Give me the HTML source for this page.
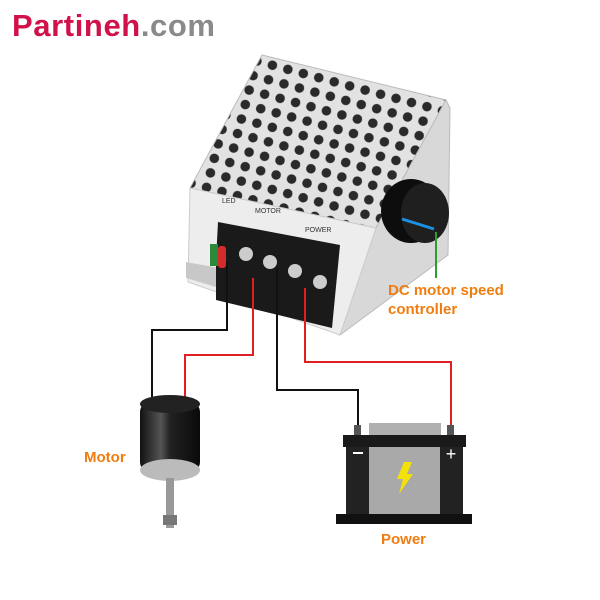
<!DOCTYPE html>
<html><head><style>
body{margin:0;width:600px;height:600px;background:#fff;overflow:hidden;font-family:"Liberation Sans",sans-serif}
.t{position:absolute;font-weight:bold;color:#f07d10;font-size:15px}
</style></head><body>
<div style="position:absolute;left:12px;top:8px;font-size:31px;font-weight:bold;letter-spacing:0.6px"><span style="color:#d1124a">Partineh</span><span style="color:#8a8a8a">.com</span></div>
<svg width="600" height="600" style="position:absolute;left:0;top:0">
<defs>
<pattern id="h" width="16" height="15" patternUnits="userSpaceOnUse" patternTransform="rotate(15)">
<rect width="16" height="15" fill="#e2e2e2"/><circle cx="8" cy="7.5" r="4.8" fill="#2a2a2a"/></pattern>
<linearGradient id="m" x1="0" x2="1"><stop offset="0" stop-color="#111"/><stop offset=".35" stop-color="#555"/><stop offset=".5" stop-color="#222"/><stop offset="1" stop-color="#0a0a0a"/></linearGradient>
</defs>
<polygon points="262,55 446,100 376,228 190,188" fill="url(#h)" stroke="#bbb"/>
<polygon points="376,228 446,100 450,108 448,255 340,335" fill="#d8d8d8" stroke="#bbb"/>
<polygon points="190,188 376,228 340,335 188,282" fill="#ededed" stroke="#ccc"/>
<polygon points="186,262 230,270 226,290 186,278" fill="#c8c8c8"/>
<polygon points="218,222 340,245 332,328 216,300 216,260" fill="#1a1a1a"/>
<rect x="210" y="244" width="8" height="22" fill="#2a8a3a"/>
<rect x="218" y="246" width="8" height="22" rx="3" fill="#d42b2b"/>
<circle cx="246" cy="254" r="7" fill="#ccc"/><circle cx="270" cy="262" r="7" fill="#ccc"/>
<circle cx="295" cy="271" r="7" fill="#ccc"/><circle cx="320" cy="282" r="7" fill="#ccc"/>
<text x="222" y="203" font-size="7" fill="#333" font-family="Liberation Sans">LED</text>
<text x="255" y="213" font-size="7" fill="#333" font-family="Liberation Sans">MOTOR</text>
<text x="305" y="232" font-size="7" fill="#333" font-family="Liberation Sans">POWER</text>
<ellipse cx="411" cy="211" rx="30" ry="32" fill="#0d0d0d"/>
<ellipse cx="425" cy="213" rx="24" ry="30" fill="#1f1f1f"/>
<line x1="402" y1="219" x2="434" y2="229" stroke="#1e90e0" stroke-width="3"/>
<g fill="none" stroke-width="2">
<polyline points="436,232 436,278" stroke="#2aa02a"/>
<polyline points="358,425 358,390 277,390 277,268" stroke="#111"/>
<polyline points="451,425 451,362 305,362 305,288" stroke="#e02020"/>
<polyline points="152,400 152,330 227,330 227,262" stroke="#111"/>
<polyline points="185,400 185,355 253,355 253,278" stroke="#e02020"/>
</g>
<rect x="140" y="402" width="60" height="70" rx="10" fill="url(#m)"/>
<ellipse cx="170" cy="404" rx="30" ry="9" fill="#222"/>
<ellipse cx="170" cy="470" rx="30" ry="11" fill="#bbb"/>
<rect x="166" y="478" width="8" height="50" fill="#999"/>
<rect x="163" y="515" width="14" height="10" fill="#777"/>
<rect x="369" y="423" width="72" height="14" fill="#b0b0b0"/>
<rect x="354" y="425" width="7" height="11" fill="#555"/>
<rect x="447" y="425" width="7" height="11" fill="#555"/>
<rect x="343" y="435" width="123" height="12" fill="#1a1a1a"/>
<rect x="346" y="447" width="117" height="67" fill="#222"/>
<rect x="369" y="447" width="71" height="67" fill="#a9a9a9"/>
<rect x="336" y="514" width="136" height="10" fill="#111"/>
<rect x="353" y="452" width="10" height="2" fill="#fff"/>
<text x="451" y="460" font-size="18" fill="#fff" text-anchor="middle" font-family="Liberation Sans">+</text>
<polygon points="404,462 412,462 407,474 413,474 399,494 403,479 397,479" fill="#f5e10a"/>
</svg>
<div class="t" style="left:388px;top:282px">DC motor speed</div>
<div class="t" style="left:388px;top:301px">controller</div>
<div class="t" style="left:84px;top:449px">Motor</div>
<div class="t" style="left:381px;top:531px">Power</div>
</body></html>
